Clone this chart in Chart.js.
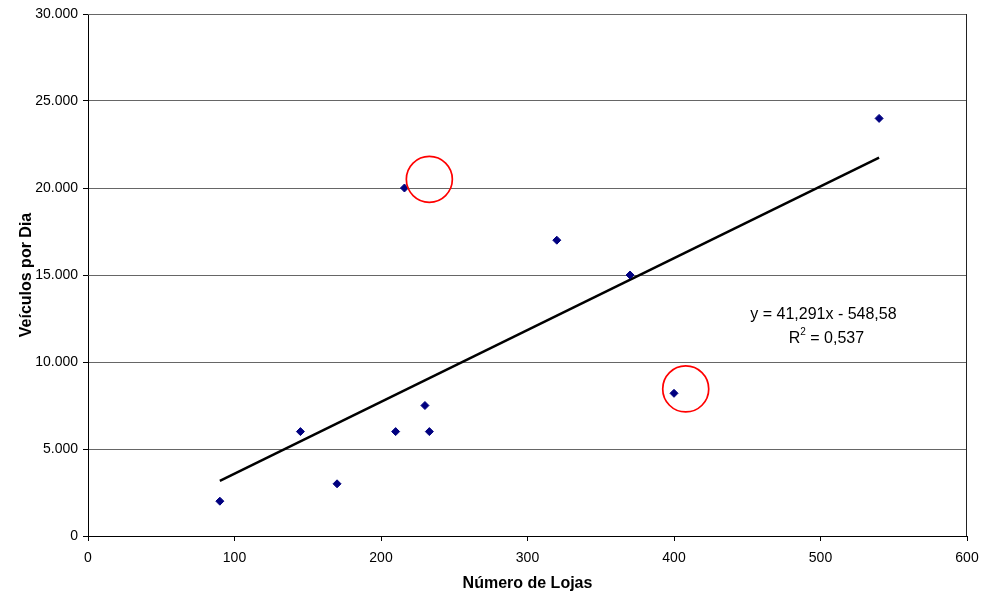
<!DOCTYPE html>
<html lang="pt">
<head>
<meta charset="UTF-8">
<title>Veículos por Dia x Número de Lojas</title>
<script src="https://cdn.jsdelivr.net/npm/chart.js"></script>
<style>
  html, body { margin: 0; padding: 0; background: #fff; }
  #wrap { width: 983px; height: 593px; }
</style>
</head>
<body>
<div id="wrap"><canvas id="lojasChart" width="983" height="593"></canvas></div>
<script>
// observações: número de lojas x veículos por dia
const lojas   = [90, 145, 170, 210, 216, 230, 233, 320, 370, 400, 540];
const veiculos = [2000, 6000, 3000, 6000, 20000, 7500, 6000, 17000, 15000, 8200, 24000];

// reta de tendência linear (coeficientes da regressão)
const inclinacao = 41.291;
const intercepto = -548.58;
const r2 = 0.537;
const trendX = [90, 540];

// pontos destacados com círculo vermelho
const destaqueX = [233, 408];
const destaqueY = [20500, 8450];

const yTicks = [0, 5000, 10000, 15000, 20000, 25000, 30000];

function fmtMilhar(v) {
  return String(v).replace(/\B(?=(\d{3})+(?!\d))/g, '.');
}
function fmtDec(v, casas) {
  return v.toFixed(casas).replace('.', ',');
}

const FONT = 'Liberation Sans, Arial, sans-serif';
Chart.defaults.font.family = FONT;
Chart.defaults.font.size = 14;
Chart.defaults.color = '#000';

// moldura superior/direita e texto da equação
const extras = {
  id: 'extras',
  afterDraw(chart) {
    const { ctx, chartArea: a, scales } = chart;
    ctx.save();
    ctx.lineWidth = 1;
    ctx.strokeStyle = '#666';
    ctx.beginPath();
    ctx.moveTo(a.left, a.top + 0.5);
    ctx.lineTo(a.right, a.top + 0.5);
    ctx.stroke();
    ctx.strokeStyle = '#222';
    ctx.beginPath();
    ctx.moveTo(a.right - 0.5, a.top);
    ctx.lineTo(a.right - 0.5, a.bottom);
    ctx.stroke();

    const cx = scales.x.getPixelForValue(502);
    const cy = scales.y.getPixelForValue(12700);
    ctx.fillStyle = '#000';
    ctx.font = '16px ' + FONT;
    ctx.textAlign = 'center';
    ctx.textBaseline = 'middle';
    ctx.fillText('y = ' + fmtDec(inclinacao, 3) + 'x - ' + fmtDec(-intercepto, 2), cx, cy);
    const rest = ' = ' + fmtDec(r2, 3);
    const wR = ctx.measureText('R').width;
    ctx.font = '10px ' + FONT;
    const w2 = ctx.measureText('2').width;
    ctx.font = '16px ' + FONT;
    const wRest = ctx.measureText(rest).width;
    let x0 = cx + 3 - (wR + w2 + wRest) / 2;
    const y2 = cy + 24;
    ctx.textAlign = 'left';
    ctx.fillText('R', x0, y2);
    ctx.font = '10px ' + FONT;
    ctx.fillText('2', x0 + wR, y2 - 7);
    ctx.font = '16px ' + FONT;
    ctx.fillText(rest, x0 + wR + w2, y2);
    ctx.restore();
  }
};

const ctx = document.getElementById('lojasChart').getContext('2d');
new Chart(ctx, {
  type: 'scatter',
  data: {
    datasets: [
      {
        label: 'Observações',
        data: lojas.map((x, i) => ({ x, y: veiculos[i] })),
        pointStyle: 'rectRot',
        pointRadius: 4,
        pointHoverRadius: 4,
        backgroundColor: '#000080',
        borderColor: '#000080',
        borderWidth: 1,
        order: 1
      },
      {
        label: 'Tendência',
        type: 'line',
        data: trendX.map(x => ({ x, y: inclinacao * x + intercepto })),
        borderColor: '#000',
        borderWidth: 2.5,
        pointRadius: 0,
        fill: false,
        order: 2
      },
      {
        label: 'Destaque',
        data: destaqueX.map((x, i) => ({ x, y: destaqueY[i] })),
        pointStyle: 'circle',
        pointRadius: 23,
        pointHoverRadius: 23,
        backgroundColor: 'rgba(0,0,0,0)',
        borderColor: '#ff0000',
        borderWidth: 1.7,
        order: 0
      }
    ]
  },
  options: {
    responsive: false,
    animation: false,
    events: [],
    layout: { autoPadding: false, padding: { top: 14, right: 16, left: 0, bottom: 0 } },
    plugins: {
      legend: { display: false },
      tooltip: { enabled: false }
    },
    scales: {
      x: {
        type: 'linear',
        min: 0,
        max: 600,
        afterFit(s) {
          s.height = 57;
          s.paddingLeft = 0;
          s.paddingRight = 0;
        },
        border: { color: '#000', width: 1 },
        grid: { drawOnChartArea: false, drawTicks: true, tickLength: 5, tickColor: '#000' },
        ticks: { stepSize: 100, padding: 9, maxRotation: 0 },
        title: {
          display: true,
          text: 'Número de Lojas',
          font: { weight: 'bold', size: 16 },
          padding: { top: 0, bottom: 0 }
        }
      },
      y: {
        type: 'linear',
        min: 0,
        max: 30000,
        afterFit(s) {
          s.width = 88;
          s.paddingTop = 0;
          s.paddingBottom = 0;
        },
        afterBuildTicks(s) { s.ticks = yTicks.map(v => ({ value: v })); },
        border: { color: '#000', width: 1 },
        grid: { color: '#666', tickLength: 5, tickColor: '#000' },
        ticks: { padding: 5, callback: v => fmtMilhar(v) },
        title: {
          display: true,
          text: 'Veículos por Dia',
          font: { weight: 'bold', size: 16 },
          padding: { top: 17, bottom: 0 }
        }
      }
    }
  },
  plugins: [extras]
});
</script>
</body>
</html>
